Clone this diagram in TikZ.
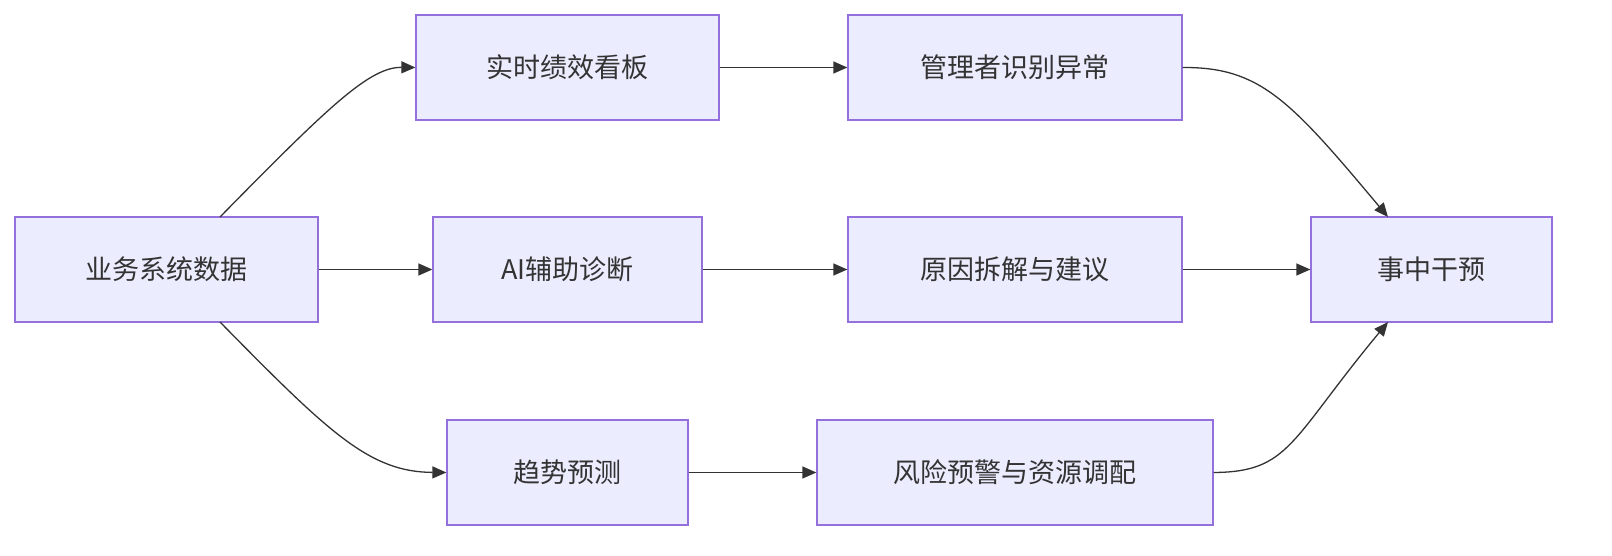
\documentclass[tikz,border=0pt]{standalone}
\usepackage{fontspec}
\setmainfont{Noto Sans CJK SC}
\usetikzlibrary{arrows.meta}
\definecolor{nfill}{HTML}{ECECFF}
\definecolor{nline}{HTML}{9370DB}
\definecolor{ink}{HTML}{333333}
\begin{document}
\begin{tikzpicture}[x=1pt,y=-1pt,
  box/.style={draw=nline,fill=nfill,line width=1.3pt,minimum height=105pt,inner sep=0pt,text=ink,font=\fontsize{27}{30}\selectfont},
  link/.style={draw=ink,line width=1.3pt,-{Triangle[length=14pt,width=12pt]}}]
\node[box,minimum width=303pt] (A) at (166.5,269.5) {业务系统数据};
\node[box,minimum width=303pt] (B) at (567.5,67.5) {实时绩效看板};
\node[box,minimum width=269pt] (C) at (567.5,269.5) {AI辅助诊断};
\node[box,minimum width=241pt] (D) at (567.5,472.5) {趋势预测};
\node[box,minimum width=334pt] (E) at (1015,67.5) {管理者识别异常};
\node[box,minimum width=334pt] (F) at (1015,269.5) {原因拆解与建议};
\node[box,minimum width=396pt] (G) at (1015,472.5) {风险预警与资源调配};
\node[box,minimum width=241pt] (H) at (1431.5,269.5) {事中干预};
\coordinate (At) at (220,217);
\coordinate (Ab) at (220,322);
\coordinate (Ht) at (1388,217);
\coordinate (Hb) at (1388,322);
\draw[link] (At) .. controls (330,105) and (370,67) .. (B.west);
\draw[link] (Ab) .. controls (330,434) and (370,472) .. (D.west);
\draw[link] (A.east) -- (C.west);
\draw[link] (B.east) -- (E.west);
\draw[link] (C.east) -- (F.west);
\draw[link] (D.east) -- (G.west);
\draw[link] (F.east) -- (H.west);
\draw[link] (E.east) .. controls (1260,67) and (1290,100) .. (Ht);
\draw[link] (G.east) .. controls (1290,472) and (1290,440) .. (Hb);
\pgfresetboundingbox
\path[use as bounding box] (0,0) rectangle (1612,556);
\end{tikzpicture}
\end{document}
